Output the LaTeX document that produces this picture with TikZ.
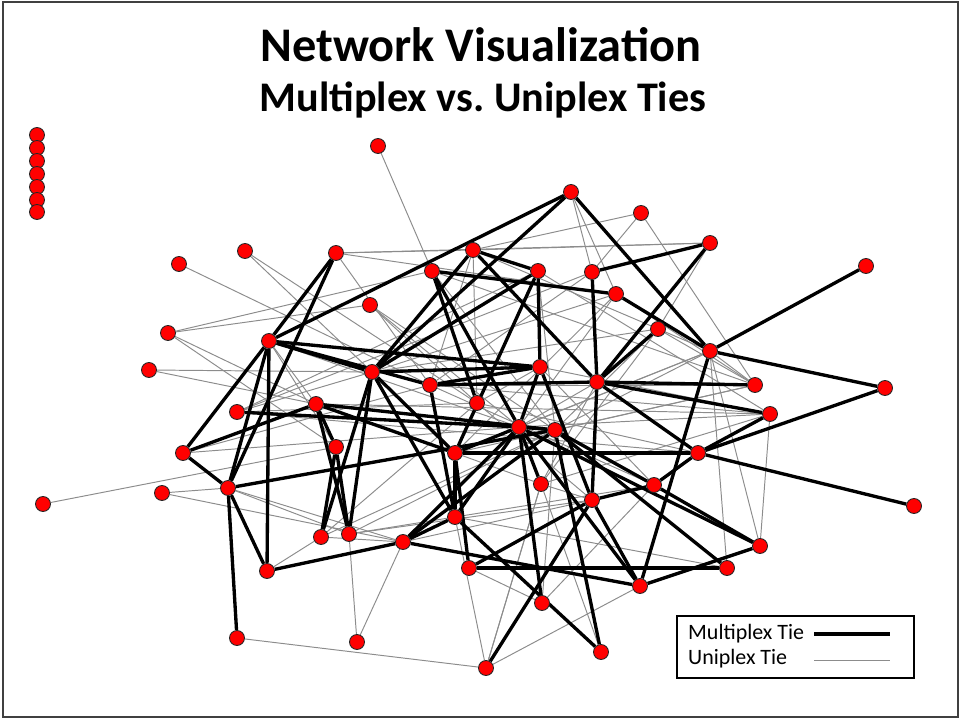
\documentclass[tikz,border=0pt]{standalone}
\usepackage{fontspec}
\setmainfont{Carlito}
\usetikzlibrary{backgrounds}

\tikzset{
    actor/.style={circle, draw=black!85, fill=red, inner sep=0pt, minimum size=0.3cm, line width=0.5pt},
    multi/.style={line width=1.9pt, black},
    uni/.style={line width=0.55pt, black!45},
}

\begin{document}
\begin{tikzpicture}[x=0.02cm, y=-0.02cm]
    \useasboundingbox (0,0) rectangle (961,719);
    % Frame
    \draw[line width=1pt, black!75] (3,2) rectangle (958,717);

    % Title
    \node[font=\fontsize{27.5}{32}\selectfont\bfseries] (title) at (481,45) {Network Visualization};
    \node[font=\fontsize{24}{28}\selectfont\bfseries] (subtitle) at (483,100) {Multiplex vs.\ Uniplex Ties};

    % Isolates
    \foreach \i/\y in {1/135, 2/148, 3/161, 4/174, 5/187, 6/200, 7/212}
        \node[actor] (i\i) at (37,\y) {};

    % Actors
    \foreach \n/\x/\y in {
        1/378/146, 2/571/192, 3/641/213, 4/710/243, 5/245/251, 6/336/253,
        7/473/250, 8/179/264, 9/432/271, 10/538/271, 11/592/272, 12/866/266,
        13/616/294, 14/370/305, 15/168/333, 16/269/341, 17/658/329, 18/710/351,
        19/149/370, 20/372/372, 21/430/385, 22/540/367, 23/597/382, 24/755/385,
        25/885/388, 26/316/404, 27/477/403, 28/237/412, 29/770/414, 30/519/427,
        31/555/430, 32/336/447, 33/183/453, 34/455/453, 35/698/453, 36/541/484,
        37/654/485, 38/228/488, 39/162/493, 40/43/504, 41/592/500, 42/914/506,
        43/455/517, 44/321/537, 45/349/534, 46/403/542, 47/760/546, 48/267/571,
        49/469/568, 50/727/568, 51/640/586, 52/542/603, 53/237/638, 54/357/642,
        55/486/668, 56/601/652}
        \node[actor] (v\n) at (\x,\y) {};

    \begin{pgfonlayer}{background}
    % Uniplex ties
    \foreach \a/\b in {
        1/9, 5/20, 5/27, 6/7, 6/4, 6/13, 6/21, 8/21, 15/14, 15/26, 15/32, 15/9,
        19/20, 19/26, 39/46, 39/38, 40/32, 3/7, 3/11, 3/24, 4/7, 4/17, 2/11,
        2/13, 24/13, 24/17, 24/21, 24/18, 29/30, 29/22, 47/18, 50/18, 55/53,
        55/43, 55/36, 54/45, 54/46, 48/44, 14/27, 14/31, 14/30, 9/24, 9/31,
        10/29, 10/31, 11/21, 11/28, 13/20, 13/30, 13/34, 17/31, 17/36, 17/20,
        18/30, 18/31, 18/34, 22/37, 22/27, 23/30, 23/36, 24/31, 24/34, 27/35,
        27/41, 27/44, 29/36, 31/45, 31/44, 34/36, 36/41, 37/52, 37/43, 41/45,
        41/46, 43/50, 49/52, 56/36, 52/31, 28/20, 28/35, 26/29, 33/21, 33/30,
        38/46, 38/45, 44/46, 45/43, 21/37, 21/29, 7/21, 7/27, 7/18, 10/28,
        16/26, 16/32, 16/30, 28/27, 36/55, 47/29, 51/55}
        \draw[uni] (v\a) -- (v\b);

    % Multiplex ties
    \foreach \a/\b in {
        2/16, 2/20, 2/18, 6/16, 6/38, 7/10, 7/20, 7/23, 4/11, 4/23,
        12/18, 18/25, 25/35, 35/42, 35/29, 35/37, 34/35, 23/24, 23/29, 23/35,
        23/41, 41/37, 41/51, 51/47, 18/51, 37/47, 49/50, 30/51, 31/50,
        16/20, 16/21, 16/22, 16/38, 16/48, 16/33, 33/38, 33/26, 38/48, 38/53,
        38/31, 28/30, 26/32, 26/45, 32/45, 32/44, 20/44, 20/45, 20/34, 20/43,
        20/22, 9/30, 9/13, 9/27, 10/22, 10/20, 10/34, 11/23, 13/18, 17/23,
        22/30, 21/23, 21/22, 21/43, 30/31, 30/43, 30/46, 31/46, 31/56, 30/52,
        43/56, 55/41, 46/48, 49/41, 46/51, 34/43, 34/30, 34/49, 36/30,
        31/37, 30/47, 22/41, 26/31, 26/34, 46/43}
        \draw[multi] (v\a) -- (v\b);
    \end{pgfonlayer}

    % Legend
    \node[draw, line width=0.8pt, minimum width=4.74cm, minimum height=1.24cm, inner sep=0pt] (legend) at (795.5,647) {};
    \node[anchor=west, font=\fontsize{12.5}{14}\selectfont] (lmulti) at (682,634) {Multiplex Tie};
    \node[anchor=west, font=\fontsize{12.5}{14}\selectfont] (luni) at (682,659) {Uniplex Tie};
    \coordinate (m1) at (814,634);
    \coordinate (m2) at (890,634);
    \coordinate (u1) at (814,660);
    \coordinate (u2) at (890,660);
    \draw[multi] (m1) -- (m2);
    \draw[uni] (u1) -- (u2);
\end{tikzpicture}
\end{document}
